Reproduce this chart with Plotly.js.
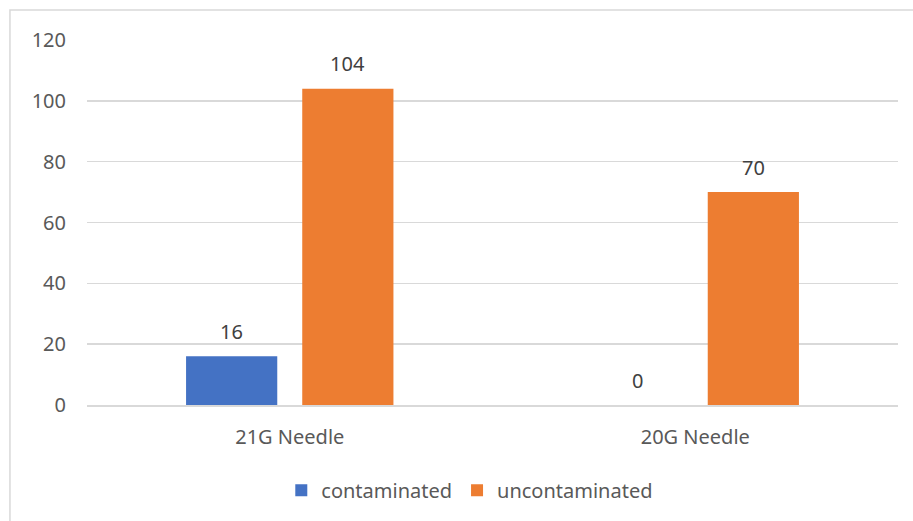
<!DOCTYPE html>
<html>
<head>
<meta charset="utf-8">
<script src="https://cdn.plot.ly/plotly-3.0.1.min.js"></script>
<style>
  html, body { margin: 0; padding: 0; background: #ffffff; }
  #chart { width: 913px; height: 521px; }
</style>
</head>
<body>
<div id="chart"></div>
<script>
// Needle gauge vs. sample contamination counts
const categories = ['21G Needle', '20G Needle'];
const seriesNames = ['contaminated', 'uncontaminated'];
const contaminated = [16, 0];
const uncontaminated = [104, 70];
const yTicks = [0, 20, 40, 60, 80, 100, 120];

const colors = ['#4472C4', '#ED7D31'];
const textColor = '#595959';
const gridColor = '#d9d9d9';
const fontFamily = '"Noto Sans", "Open Sans", sans-serif';

const seriesValues = [contaminated, uncontaminated];

const traces = seriesValues.map((vals, i) => ({
  type: 'bar',
  name: seriesNames[i],
  x: categories,
  y: vals,
  marker: { color: colors[i] },
  hoverinfo: 'x+y+name'
}));

// value labels above each bar (offset to the bar's slot within its group)
const slotShift = 58;
const annotations = [];
seriesValues.forEach((vals, i) => {
  vals.forEach((v, j) => {
    annotations.push({
      x: categories[j],
      y: v,
      xref: 'x',
      yref: 'y',
      text: String(v),
      showarrow: false,
      xshift: (i === 0 ? -1 : 1) * slotShift,
      yshift: 25,
      yanchor: 'middle',
      font: { family: fontFamily, size: 20, color: '#404040' }
    });
  });
});

const layout = {
  width: 913,
  height: 521,
  margin: { l: 87, r: 15, t: 40, b: 115 },
  paper_bgcolor: '#ffffff',
  plot_bgcolor: '#ffffff',
  font: { family: fontFamily, size: 20, color: textColor },
  barmode: 'group',
  bargap: 0.427,
  bargroupgap: 0.215,
  showlegend: true,
  legend: {
    orientation: 'h',
    x: 0.472,
    xanchor: 'center',
    y: -0.23,
    yanchor: 'middle',
    font: { family: fontFamily, size: 20, color: textColor },
    itemclick: false
  },
  xaxis: {
    type: 'category',
    showgrid: false,
    zeroline: false,
    showline: true,
    linecolor: gridColor,
    linewidth: 1.5,
    ticks: '',
    ticklabelstandoff: 13,
    tickfont: { family: fontFamily, size: 20, color: textColor }
  },
  yaxis: {
    range: [0, 120],
    tickvals: yTicks,
    ticktext: yTicks.map(String),
    showgrid: true,
    gridcolor: gridColor,
    gridwidth: 1.5,
    zeroline: false,
    showline: false,
    ticks: '',
    ticklabelstandoff: 20,
    tickfont: { family: fontFamily, size: 20, color: textColor }
  },
  annotations: annotations,
  shapes: [{
    type: 'rect',
    xref: 'paper',
    yref: 'paper',
    x0: -0.095,
    x1: 1.2,
    y0: -0.5,
    y1: 1.082,
    line: { color: gridColor, width: 1.5 },
    fillcolor: 'rgba(0,0,0,0)',
    layer: 'below'
  }]
};

Plotly.newPlot('chart', traces, layout, { displayModeBar: false, staticPlot: true });
</script>
</body>
</html>
